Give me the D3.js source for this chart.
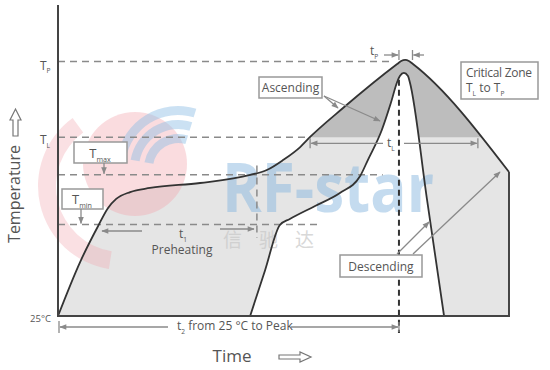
<!DOCTYPE html>
<html>
<head>
<meta charset="utf-8" />
<title>Reflow profile</title>
<script src="https://cdn.jsdelivr.net/npm/d3@7"></script>
<style>
body { margin: 0; background: #fff; }
svg  { font-family: 'Open Sans', sans-serif; }
</style>
</head>
<body>
<svg width="550" height="370"></svg>
<script>

// outer (max) profile, time units vs temperature
var v_OuterTime  = [0, 4.9, 8.9, 11.1, 12.9, 16.0, 20.4, 31.5, 42.6, 46.3, 49.9, 53.7, 55.9, 63.2, 75.2, 76.1, 77.0, 77.8, 78.7, 100];
var v_OuterTemp  = [25, 72.7, 104.6, 120.5, 128.5, 134.6, 138.2, 142.6, 149.7, 154.1, 162.9, 174.4, 183.3, 208.9, 247.8, 250.5, 251.4, 250.5, 247.8, 152.3];

// inner (min) profile
var v_InnerTime  = [42.6, 45.9, 49.2, 51.4, 57.0, 62.5, 67.0, 68.7, 71.8, 73.8, 75.2, 75.8, 76.7, 77.6, 78.0, 81.8, 85.6];
var v_InnerTemp  = [25, 65.3, 105.5, 110.8, 122.3, 133.8, 148.8, 162.9, 189.5, 213.3, 231.9, 237.2, 239.9, 237.2, 231.9, 128.5, 25];

// reference levels: T_P, T_L, Tmax, Tmin
var v_LevelNames = ["P", "L", "max", "min"];
var v_LevelTemps = [250, 183, 150, 106];
var v_LevelEnds  = [74.5, 55.9, 72.0, 57.6];

// time marks
var v_PreheatEnd = 44.1;
var v_PeakTime   = 75.6;
var v_TpRange    = [75.6, 78.6];
var v_TlRange    = [55.9, 93.1];

var v_SVG = d3.select("svg");
var x = d3.scaleLinear().domain([0, 100]).range([58, 509]);
var y = d3.scaleLinear().domain([25, 300]).range([316, 5]);

var v_Outer = v_OuterTime.map(function(t, i) { return [t, v_OuterTemp[i]]; });
var v_Inner = v_InnerTime.map(function(t, i) { return [t, v_InnerTemp[i]]; });

var v_Defs = v_SVG.append("defs");
v_Defs.append("clipPath").attr("id", "aboveTL")
  .append("rect").attr("x", 0).attr("y", 0).attr("width", 550).attr("height", y(v_LevelTemps[1]));

v_Defs.append("marker")
  .attr("id", "head")
  .attr("viewBox", "0 0 10 10")
  .attr("refX", 9).attr("refY", 5)
  .attr("markerWidth", 8).attr("markerHeight", 7)
  .attr("markerUnits", "userSpaceOnUse")
  .attr("orient", "auto")
  .append("path").attr("d", "M0,1 L10,5 L0,9 z").attr("fill", "#8a8a8a");

var v_Area = d3.area()
  .x(function(d) { return x(d[0]); })
  .y0(y(25))
  .y1(function(d) { return y(d[1]); })
  .curve(d3.curveMonotoneX);

var v_Line = d3.line()
  .x(function(d) { return x(d[0]); })
  .y(function(d) { return y(d[1]); })
  .curve(d3.curveMonotoneX);

// fills
v_SVG.append("path").attr("d", v_Area(v_Outer)).attr("fill", "#e5e5e5");
v_SVG.append("path").attr("d", v_Area(v_Outer)).attr("fill", "#bdbdbd").attr("clip-path", "url(#aboveTL)");
v_SVG.append("path").attr("d", v_Area(v_Inner)).attr("fill", "#ffffff");

// watermark
var v_WM = v_SVG.append("g");
v_WM.append("path")
  .attr("d", d3.arc().innerRadius(66).outerRadius(84).startAngle(Math.PI * 1.05).endAngle(Math.PI * 1.8)())
  .attr("transform", "translate(122,186)")
  .attr("fill", "#f2a7ae").attr("opacity", 0.35);
v_WM.append("circle").attr("cx", 135).attr("cy", 164).attr("r", 52)
  .attr("fill", "#f2a7ae").attr("opacity", 0.4);
[30, 44, 58].forEach(function(r) {
  v_WM.append("path")
    .attr("d", d3.arc().innerRadius(r - 5).outerRadius(r + 4).startAngle(-1.4).endAngle(0.3)())
    .attr("transform", "translate(178,168)")
    .attr("fill", "#8cbde4").attr("opacity", 0.45);
});
v_WM.append("text")
  .attr("x", 222).attr("y", 212)
  .attr("font-size", 68).attr("font-weight", "bold")
  .attr("textLength", 212).attr("lengthAdjust", "spacingAndGlyphs")
  .attr("fill", "#8ab9e0").attr("opacity", 0.5)
  .text("RF-star");
v_WM.append("text")
  .attr("x", 223).attr("y", 247)
  .attr("font-family", "Noto Sans CJK SC")
  .attr("font-size", 19).attr("fill", "#c8c8c8").attr("opacity", 0.7)
  .text("信\u00a0\u00a0\u00a0\u00a0驰\u00a0\u00a0\u00a0\u00a0达");

// level dashed lines
v_LevelTemps.forEach(function(v, i) {
  v_SVG.append("line")
    .attr("x1", x(0)).attr("x2", x(v_LevelEnds[i]))
    .attr("y1", y(v)).attr("y2", y(v))
    .attr("stroke", "#8a8a8a").attr("stroke-width", 1.5)
    .attr("stroke-dasharray", "7,5");
});

// preheating end marker
v_SVG.append("line")
  .attr("x1", x(v_PreheatEnd)).attr("x2", x(v_PreheatEnd))
  .attr("y1", y(158)).attr("y2", y(94))
  .attr("stroke", "#8a8a8a").attr("stroke-width", 1.5)
  .attr("stroke-dasharray", "7,5");

// profile outlines
v_SVG.append("path").attr("d", v_Line(v_Outer)).attr("fill", "none").attr("stroke", "#333").attr("stroke-width", 1.8);
v_SVG.append("path").attr("d", v_Line(v_Inner)).attr("fill", "none").attr("stroke", "#333").attr("stroke-width", 1.8);
v_SVG.append("line")
  .attr("x1", x(100)).attr("x2", x(100))
  .attr("y1", y(v_OuterTemp[v_OuterTemp.length - 1])).attr("y2", y(25))
  .attr("stroke", "#333").attr("stroke-width", 1.8);

// peak dashed line
v_SVG.append("line")
  .attr("x1", x(v_PeakTime)).attr("x2", x(v_PeakTime))
  .attr("y1", y(234)).attr("y2", y(25) + 17)
  .attr("stroke", "#333").attr("stroke-width", 2)
  .attr("stroke-dasharray", "6,4");

// axes
v_SVG.append("line").attr("x1", x(0)).attr("x2", x(0)).attr("y1", y(25)).attr("y2", y(300))
  .attr("stroke", "#444").attr("stroke-width", 2);
v_SVG.append("line").attr("x1", x(0) - 1).attr("x2", x(100) + 1).attr("y1", y(25)).attr("y2", y(25))
  .attr("stroke", "#444").attr("stroke-width", 2);

function richText(g, px, py, parts, size, anchor, color)
{
  var v_T = g.append("text")
    .attr("x", px).attr("y", py)
    .attr("font-size", size)
    .attr("fill", color || "#555")
    .attr("text-anchor", anchor || "start");
  var v_Down = false;
  parts.forEach(function(p) {
    var v_Sub = p[1];
    var v_Span = v_T.append("tspan").text(p[0]);
    if ( v_Sub && !v_Down ) { v_Span.attr("dy", size * 0.3); v_Down = true; }
    if ( !v_Sub && v_Down ) { v_Span.attr("dy", -size * 0.3); v_Down = false; }
    if ( v_Sub ) v_Span.attr("font-size", size * 0.55);
  });
  return v_T;
}

function arrow(x1, y1, x2, y2)
{
  v_SVG.append("line")
    .attr("x1", x1).attr("y1", y1).attr("x2", x2).attr("y2", y2)
    .attr("stroke", "#8a8a8a").attr("stroke-width", 1.3)
    .attr("marker-end", "url(#head)");
}

function tick(px, py1, py2)
{
  v_SVG.append("line")
    .attr("x1", px).attr("x2", px).attr("y1", py1).attr("y2", py2)
    .attr("stroke", "#8a8a8a").attr("stroke-width", 1.3);
}

function box(x0, y0, w, h)
{
  v_SVG.append("rect")
    .attr("x", x0).attr("y", y0).attr("width", w).attr("height", h)
    .attr("fill", "#fff").attr("stroke", "#999").attr("stroke-width", 1.5);
}

// level labels on the axis
richText(v_SVG, 40, y(v_LevelTemps[0]) + 8, [["T", false], ["P", true]], 12, "start");
richText(v_SVG, 40, y(v_LevelTemps[1]) + 7, [["T", false], ["L", true]], 12, "start");
v_SVG.append("text").attr("x", 51).attr("y", y(25) + 6)
  .attr("font-size", 9.5).attr("fill", "#555").attr("text-anchor", "end").text("25°C");

// Tmax / Tmin boxes
box(74, 142, 53, 21);
richText(v_SVG, 100, 158, [["T", false], ["max", true]], 13, "middle");
arrow(104, 163, 104, y(v_LevelTemps[2]) - 1);
box(62, 189, 41, 20);
richText(v_SVG, 82, 204, [["T", false], ["min", true]], 13, "middle");
arrow(81, 209, 81, y(v_LevelTemps[3]) - 1);

// t1 preheating
arrow(142, 231, 102, 231);
arrow(220, 229, 254, 229);
richText(v_SVG, 179, 238, [["t", false], ["1", true]], 12, "start");
v_SVG.append("text").attr("x", 182).attr("y", 254).attr("font-size", 12)
  .attr("fill", "#555").attr("text-anchor", "middle").text("Preheating");

// t2 from 25 to peak
var v_T2y = y(25) + 11;
tick(x(0) + 1, v_T2y - 6, v_T2y + 6);
tick(x(v_PeakTime), v_T2y - 5, v_T2y + 5);
arrow(168, v_T2y, x(0) + 2, v_T2y);
arrow(291, v_T2y, x(v_PeakTime) - 1, v_T2y);
richText(v_SVG, 177, v_T2y + 3, [["t", false], ["2", true], [" from 25 °C  to Peak", false]], 12, "start");

// tL
var v_TLy = y(v_LevelTemps[1]) + 6;
tick(x(v_TlRange[0]), v_TLy - 5, v_TLy + 5);
tick(x(v_TlRange[1]), v_TLy - 5, v_TLy + 5);
arrow(383, v_TLy, x(v_TlRange[0]) + 1, v_TLy);
arrow(404, v_TLy, x(v_TlRange[1]) - 1, v_TLy);
richText(v_SVG, 387, v_TLy + 4, [["t", false], ["L", true]], 12, "start");

// tP
tick(x(v_TpRange[0]), 50, 60);
tick(x(v_TpRange[1]), 50, 60);
arrow(384, 55, x(v_TpRange[0]) - 1, 55);
arrow(424, 55, x(v_TpRange[1]) + 1, 55);
richText(v_SVG, 370, 55, [["t", false], ["P", true]], 12, "start");

// Ascending
arrow(324, 96, 338, 108);
arrow(324, 96, 380, 121);
box(259, 77, 63, 21);
v_SVG.append("text").attr("x", 290.5).attr("y", 92).attr("font-size", 12)
  .attr("fill", "#555").attr("text-anchor", "middle").text("Ascending");

// Descending
arrow(397, 254, 429, 222);
arrow(413, 254, 500, 172);
box(340, 255, 82, 22);
v_SVG.append("text").attr("x", 381).attr("y", 271).attr("font-size", 12)
  .attr("fill", "#555").attr("text-anchor", "middle").text("Descending");

// Critical zone
box(461, 62, 77, 37);
v_SVG.append("text").attr("x", 466).attr("y", 77).attr("font-size", 12)
  .attr("fill", "#555").attr("letter-spacing", -0.3).text("Critical Zone");
richText(v_SVG, 466, 92, [["T", false], ["L", true], [" to T", false], ["P", true]], 12, "start");

// axis titles
v_SVG.append("text")
  .attr("transform", "translate(20,194) rotate(-90)")
  .attr("font-size", 16).attr("fill", "#555").attr("text-anchor", "middle")
  .text("Temperature");
v_SVG.append("polygon")
  .attr("points", "13,136 18,136 18,120 21,120 15.5,109 10,120 13,120")
  .attr("fill", "#fff").attr("stroke", "#777").attr("stroke-width", 1.2);

v_SVG.append("text")
  .attr("x", 232).attr("y", 362)
  .attr("font-size", 17).attr("fill", "#555").attr("text-anchor", "middle")
  .text("Time");
v_SVG.append("polygon")
  .attr("points", "279,355 300,355 300,352 311,357 300,362 300,359 279,359")
  .attr("fill", "#fff").attr("stroke", "#777").attr("stroke-width", 1.2);

</script>
</body>
</html>
